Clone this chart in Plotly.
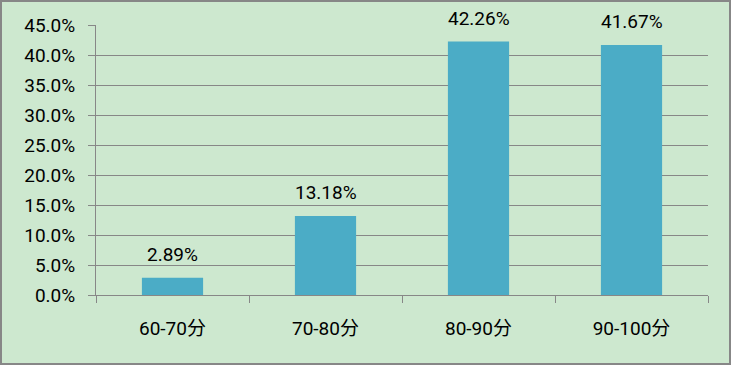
import plotly.graph_objects as go

categories = ["60-70分", "70-80分", "80-90分", "90-100分"]
values = [2.89, 13.18, 42.26, 41.67]
y_ticks = [0, 5, 10, 15, 20, 25, 30, 35, 40, 45]
y_tick_labels = [f"{v:.1f}%" for v in y_ticks]
data_labels = [f"{v:.2f}%" for v in values]

W, H = 731, 365
L, R, T, B = 96, 23, 25, 70
pw, ph = W - L - R, H - T - B

font_family = "Roboto, Noto Sans CJK SC, sans-serif"
fs = 19

fig = go.Figure()
fig.add_trace(go.Bar(
    x=categories, y=values, marker=dict(color="#4bacc6", line=dict(width=0)),
    width=0.4, hoverinfo="skip",
))
for c, v, t in zip(categories, values, data_labels):
    fig.add_annotation(x=c, y=v, text=t, showarrow=False, yshift=23,
                       font=dict(size=fs, color="#000000", family=font_family))

fig.add_shape(type="rect", xref="paper", yref="paper",
              x0=(1 - L) / pw, x1=(W - 1 - L) / pw,
              y0=-(H - 1 - (H - B)) / ph, y1=(H - B - 1) / ph,
              line=dict(color="#878787", width=2), fillcolor="rgba(0,0,0,0)", layer="below")

fig.update_layout(
    width=W, height=H,
    margin=dict(l=L, r=R, t=T, b=B),
    paper_bgcolor="#cde8cf", plot_bgcolor="#cde8cf",
    showlegend=False,
    font=dict(family=font_family, size=fs, color="#000000"),
    bargap=0.6,
)
fig.update_xaxes(
    type="category", showline=True, linecolor="#878787", linewidth=1,
    ticks="outside", tickson="boundaries", ticklen=7, tickcolor="#878787",
    showgrid=False, ticklabelstandoff=16, tickfont=dict(size=fs),
)
fig.update_yaxes(
    range=[0, 45], tickvals=y_ticks, ticktext=y_tick_labels,
    showline=True, linecolor="#878787", linewidth=1,
    ticks="outside", ticklen=7, tickcolor="#878787",
    showgrid=True, gridcolor="#878787", gridwidth=1,
    zeroline=False, ticklabelstandoff=9, tickfont=dict(size=fs),
)

fig.write_html("out.html")
